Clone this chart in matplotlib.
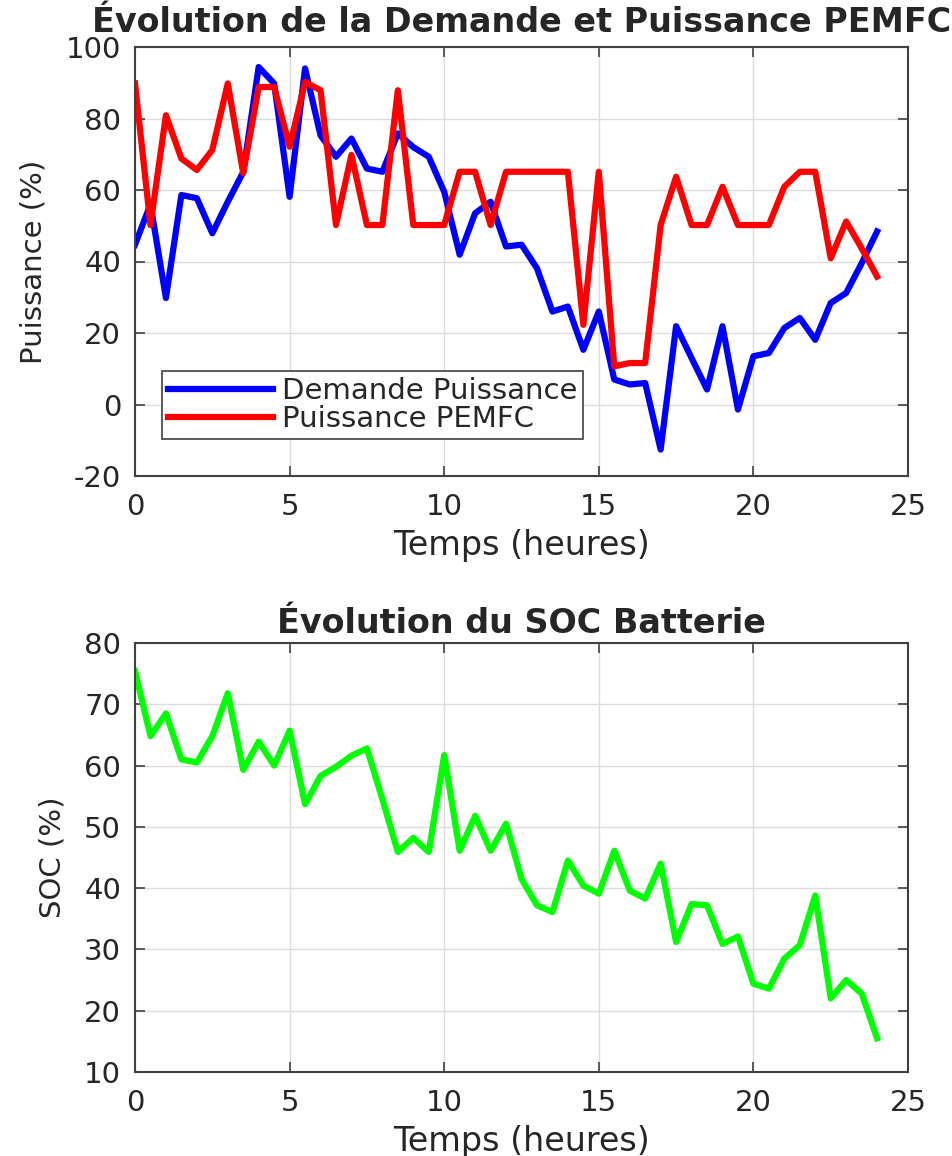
import numpy as np
import matplotlib
matplotlib.use("Agg")
import matplotlib.pyplot as plt

# ---- data ----
temps = [i * 0.5 for i in range(49)]

demande = [44.7, 56.0, 29.8, 58.6, 57.7, 47.9, 56.7, 65.0, 94.4, 89.8,
           58.1, 94.0, 75.3, 69.3, 74.4, 66.0, 65.1, 75.8, 72.0, 69.3,
           59.5, 41.9, 53.5, 56.7, 44.2, 44.7, 38.1, 26.0, 27.4, 15.3,
           26.0, 7.0, 5.6, 6.0, -12.6, 21.9, 13.0, 4.2, 21.9, -1.4,
           13.5, 14.4, 21.4, 24.2, 18.1, 28.4, 31.2, 39.5, 48.4]

pemfc = [89.8, 50.2, 80.9, 68.8, 65.6, 71.2, 89.8, 64.7, 88.8, 88.8,
         72.1, 90.2, 87.9, 50.2, 69.8, 50.2, 50.2, 87.9, 50.2, 50.2,
         50.2, 65.1, 65.1, 50.2, 65.1, 65.1, 65.1, 65.1, 65.1, 22.3,
         65.1, 10.7, 11.6, 11.6, 50.2, 63.7, 50.2, 50.2, 60.9, 50.2,
         50.2, 50.2, 60.9, 65.1, 65.1, 40.9, 51.2, 43.7, 35.8]

soc = [75.4, 64.8, 68.5, 61.0, 60.5, 64.8, 71.8, 59.3, 63.9, 60.0,
       65.7, 53.7, 58.3, 59.8, 61.6, 62.8, 54.5, 45.9, 48.2, 45.9,
       61.7, 46.1, 51.8, 46.1, 50.5, 41.5, 37.2, 36.1, 44.5, 40.4,
       39.1, 46.1, 39.6, 38.3, 44.0, 31.2, 37.4, 37.2, 30.9, 32.1,
       24.4, 23.6, 28.5, 30.7, 38.8, 22.0, 25.0, 22.8, 15.5]

x_ticks = [0, 5, 10, 15, 20, 25]
y_ticks_top = [-20, 0, 20, 40, 60, 80, 100]
y_ticks_bot = [10, 20, 30, 40, 50, 60, 70, 80]

# ---- style ----
plt.rcParams['font.family'] = ['DejaVu Sans']
plt.rcParams['axes.unicode_minus'] = False
txt = '#262626'
spine = '#404040'

fig = plt.figure(figsize=(9.53, 11.56), dpi=100)
ax1 = fig.add_axes([135/953, 1 - 476/1156, 773/953, 429/1156])
ax2 = fig.add_axes([135/953, 1 - 1072/1156, 773/953, 429/1156])


def style(ax):
    ax.grid(True, color='#dcdcdc', linewidth=1.0)
    ax.set_axisbelow(True)
    for s in ax.spines.values():
        s.set_color(spine)
        s.set_linewidth(1.5)
    ax.tick_params(direction='in', length=7, width=1.2, color=spine,
                   top=True, right=True, labelsize=21, labelcolor=txt)
    ax.tick_params(axis='y', pad=10)
    ax.tick_params(axis='x', pad=12)
    ax.set_xlim(0, 25)
    ax.set_xticks(x_ticks)


ax1.plot(temps, demande, color=(0, 0, 1), linewidth=4.5, label='Demande Puissance')
ax1.plot(temps, pemfc, color=(1, 0, 0), linewidth=4.5, label='Puissance PEMFC')
style(ax1)
ax1.set_ylim(-20, 100)
ax1.set_yticks(y_ticks_top)
ax1.set_title('Évolution de la Demande et Puissance PEMFC', fontsize=24,
              fontweight='bold', color=txt, pad=11)
ax1.set_xlabel('Temps (heures)', fontsize=24, color=txt, labelpad=6)
ax1.set_ylabel('Puissance (%)', fontsize=21, color=txt, labelpad=13)
leg = ax1.legend(loc='upper left', bbox_to_anchor=(0.035, 0.245), borderaxespad=0,
                 fontsize=21, handlelength=3.6, handletextpad=0.3,
                 labelspacing=0.0, borderpad=0.2, fancybox=False, framealpha=1)
leg.get_frame().set_edgecolor(spine)
leg.get_frame().set_linewidth(1.2)
for t in leg.get_texts():
    t.set_color(txt)

ax2.plot(temps, soc, color=(0, 1, 0), linewidth=4.5)
style(ax2)
ax2.set_ylim(10, 80)
ax2.set_yticks(y_ticks_bot)
ax2.set_title('Évolution du SOC Batterie', fontsize=24, fontweight='bold',
              color=txt, pad=7)
ax2.set_xlabel('Temps (heures)', fontsize=24, color=txt, labelpad=6)
ax2.set_ylabel('SOC (%)', fontsize=21, color=txt, labelpad=13)

fig.savefig('out.png', dpi=100)
